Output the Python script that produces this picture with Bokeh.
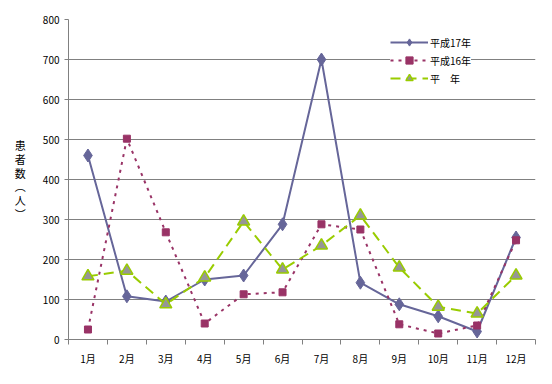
from bokeh.plotting import figure
from bokeh.models import FixedTicker, Legend, LegendItem
from bokeh.embed import file_html
from bokeh.resources import INLINE

months = ["1月", "2月", "3月", "4月", "5月", "6月", "7月", "8月", "9月", "10月", "11月", "12月"]
h17 = [460, 108, 95, 150, 160, 288, 700, 142, 88, 58, 20, 255]
h16 = [25, 502, 268, 40, 113, 118, 288, 275, 38, 15, 35, 248]
heinen = [158, 172, 88, 155, 295, 175, 235, 310, 180, 82, 65, 160]
y_ticks = [0, 100, 200, 300, 400, 500, 600, 700, 800]
series_names = ["平成17年", "平成16年", "平　年"]

x = list(range(1, len(months) + 1))
FONT = "Noto Sans CJK JP"

p = figure(width=536, height=368, x_range=(0.5, len(months) + 0.5), y_range=(0, 800),
           output_backend="svg", toolbar_location=None,
           min_border_left=68, min_border_right=1, min_border_top=19, min_border_bottom=27)
p.outline_line_color = None
p.background_fill_color = "white"
p.border_fill_color = "white"

# x axis: labels at centers, ticks at boundaries
xt = FixedTicker(ticks=x, minor_ticks=[i + 0.5 for i in range(0, len(months) + 1)])
p.xaxis.ticker = xt
p.xaxis.major_label_overrides = {i: m for i, m in zip(x, months)}
p.xaxis.major_tick_out = 0
p.xaxis.major_tick_in = 0
p.xaxis.minor_tick_out = 5
p.xaxis.minor_tick_in = 0
p.xaxis.minor_tick_line_color = "#808080"
p.xaxis.axis_line_color = "#808080"
p.xaxis.major_label_text_font = FONT
p.xaxis.major_label_text_font_size = "10px"
p.xaxis.major_label_text_color = "black"
p.xaxis.major_label_standoff = 6
p.xgrid.grid_line_color = None

p.yaxis.ticker = FixedTicker(ticks=y_ticks, minor_ticks=[])
p.yaxis.major_tick_out = 4
p.yaxis.major_tick_in = 0
p.yaxis.major_tick_line_color = "#808080"
p.yaxis.axis_line_color = "#808080"
p.yaxis.major_label_text_font = FONT
p.yaxis.major_label_text_font_size = "10px"
p.yaxis.major_label_text_color = "black"
p.yaxis.major_label_standoff = 5
p.yaxis.axis_label = "患\n者\n数\n︵\n人\n︶"
p.yaxis.axis_label_orientation = "horizontal"
p.yaxis.axis_label_text_font = FONT
p.yaxis.axis_label_text_font_size = "11px"
p.yaxis.axis_label_text_font_style = "normal"
p.yaxis.axis_label_text_color = "black"
p.yaxis.axis_label_text_line_height = 0.86
p.yaxis.axis_label_standoff = 14
p.ygrid.grid_line_color = "#808080"
p.ygrid.grid_line_width = 1

l1 = p.line(x, h17, line_color="#666699", line_width=2)
m1 = p.scatter(x, h17, marker="diamond", size=13, fill_color="#666699", line_color="#666699")
l2 = p.line(x, h16, line_color="#993366", line_width=2, line_dash="3 5")
m2 = p.scatter(x, h16, marker="square", size=7, fill_color="#993366", line_color="#993366")
l3 = p.line(x, heinen, line_color="#99CC00", line_width=2, line_dash="10 6")
m3 = p.scatter(x, heinen, marker="triangle", size=12, fill_color="#969696", line_color="#99CC00", line_width=1.5)

legend = Legend(items=[LegendItem(label=series_names[0], renderers=[l1, m1]),
                       LegendItem(label=series_names[1], renderers=[l2, m2]),
                       LegendItem(label=series_names[2], renderers=[l3, m3])],
                location=(322, 252), orientation="vertical")
legend.label_text_font = FONT
legend.label_text_font_size = "10px"
legend.label_text_color = "black"
legend.glyph_width = 38
legend.glyph_height = 18
legend.label_height = 18
legend.label_standoff = 2
legend.padding = 0
legend.spacing = 0
legend.margin = 0
legend.border_line_color = None
legend.background_fill_color = "white"
legend.background_fill_alpha = 1
p.add_layout(legend, "center")

open("out.html", "w").write(file_html(p, INLINE))
